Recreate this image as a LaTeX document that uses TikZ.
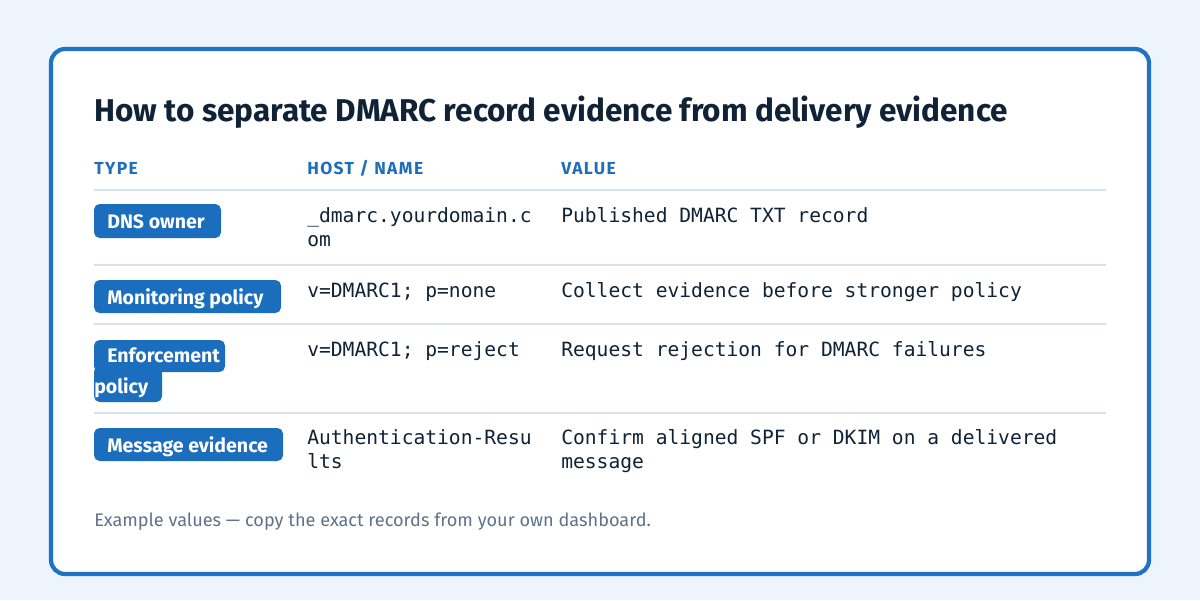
\documentclass[tikz,border=0pt]{standalone}
\usepackage{fontspec}
\setmainfont{Fira Sans}
\setmonofont{DejaVu Sans Mono}
\definecolor{pagebg}{HTML}{EEF4FB}
\definecolor{cardline}{HTML}{1E73C8}
\definecolor{inkdark}{HTML}{0F2236}
\definecolor{headblue}{HTML}{1F6FB8}
\definecolor{pillblue}{HTML}{1B6DBE}
\definecolor{rule}{HTML}{D6E2EE}
\definecolor{footgray}{HTML}{5F7288}
\begin{document}
\begin{tikzpicture}[
    x=0.025cm, y=-0.025cm,
    title/.style={anchor=base west, font=\fontsize{22.4}{26}\selectfont\bfseries, text=inkdark, inner sep=0},
    colhead/.style={anchor=base west, font=\fontsize{12.4}{14}\selectfont\bfseries\addfontfeature{LetterSpace=8}, text=headblue, inner sep=0},
    cell/.style={anchor=base west, font=\fontsize{13.95}{17}\selectfont\ttfamily, text=inkdark, inner sep=0, align=left},
    pill/.style={anchor=base west, font=\fontsize{13.9}{16}\selectfont\bfseries, text=white, inner sep=0},
    sep/.style={draw=rule, line width=0.8pt}
]
\useasboundingbox (0,0) rectangle (1200,600);
\fill[pagebg] (0,0) rectangle (1200,600);
% card
\draw[cardline, line width=3pt, fill=white, rounded corners=10pt] (51,49) rectangle (1149,574);
\node[title] (ttl) at (94,121) {How to separate DMARC record evidence from delivery evidence};
% column heads
\node[colhead] (hType) at (94,174) {TYPE};
\node[colhead] (hHost) at (307,174) {HOST / NAME};
\node[colhead] (hVal) at (561,174) {VALUE};
\foreach \yy in {190,265,324,413}
  \draw[sep] (94,\yy) -- (1106,\yy);
% pills
\fill[pillblue, rounded corners=4pt] (94,204) rectangle (221,238);
\node[pill] (pDns) at (107,228) {DNS owner};
\fill[pillblue, rounded corners=4pt] (94,280) rectangle (281,313);
\node[pill] (pMon) at (107,304) {Monitoring policy};
\fill[pillblue, rounded corners=4pt] (94,340) rectangle (225,372);
\fill[pillblue, rounded corners=4pt] (94,366) rectangle (162,402);
\node[pill] (pEnf) at (107,362) {Enforcement};
\node[pill] (pEnf2) at (94,393) {policy};
\fill[pillblue, rounded corners=4pt] (94,428) rectangle (283,461);
\node[pill] (pMsg) at (107,452) {Message evidence};
% host cells
\node[cell] (h1) at (307,222) {\_dmarc.yourdomain.c};
\node[cell] (h1b) at (307,246) {om};
\node[cell] (h2) at (307,297) {v=DMARC1; p=none};
\node[cell] (h3) at (307,356) {v=DMARC1; p=reject};
\node[cell] (h4) at (307,444) {Authentication-Resu};
\node[cell] (h4b) at (307,468) {lts};
% value cells
\node[cell] (v1) at (561,222) {Published DMARC TXT record};
\node[cell] (v2) at (561,297) {Collect evidence before stronger policy};
\node[cell] (v3) at (561,356) {Request rejection for DMARC failures};
\node[cell] (v4) at (561,444) {Confirm aligned SPF or DKIM on a delivered};
\node[cell] (v4b) at (561,468) {message};
% footer
\node[anchor=base west, inner sep=0, font=\fontsize{12.9}{15}\selectfont, text=footgray] (note) at (94,526) {Example values — copy the exact records from your own dashboard.};
\end{tikzpicture}
\end{document}
